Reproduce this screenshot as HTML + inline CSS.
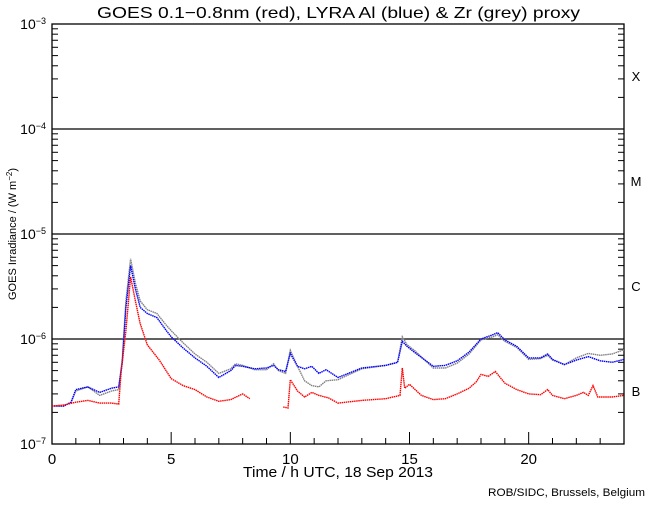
<!DOCTYPE html>
<html><head><meta charset="utf-8"><style>
body{margin:0;background:#fff}
svg text{font-family:"Liberation Sans",sans-serif;fill:#000}
</style></head><body>
<svg id="chart" width="650" height="500" viewBox="0 0 650 500" xmlns="http://www.w3.org/2000/svg">
<text x="97" y="18" font-size="16" textLength="483" lengthAdjust="spacingAndGlyphs">GOES 0.1−0.8nm (red), LYRA Al (blue) &amp; Zr (grey) proxy</text>
<text transform="translate(16,234) rotate(-90)" font-size="11" text-anchor="middle">GOES Irradiance / (W m<tspan baseline-shift="super" font-size="8">−2</tspan>)</text>
<text x="243" y="477" font-size="15" textLength="190" lengthAdjust="spacingAndGlyphs">Time / h UTC, 18 Sep 2013</text>
<text x="488" y="496" font-size="11" textLength="157" lengthAdjust="spacingAndGlyphs">ROB/SIDC, Brussels, Belgium</text>
<g id="axes"></g>
<g id="series"></g>
</svg>
<script>
const hours=[0,0.5,0.8,1,1.5,2,2.5,2.8,2.95,3.1,3.3,3.5,3.7,4,4.4,4.8,5,5.5,6,6.5,7,7.5,7.7,8,8.5,9,9.3,9.5,9.8,10,10.3,10.6,10.9,11.2,11.5,12,13,14,14.5,14.7,14.9,15.2,16,16.5,17,17.5,18,18.5,18.7,19,19.5,20,20.5,20.8,21,21.5,22,22.5,23,23.5,24];
const blueVals=[2.3e-7,2.3e-7,2.5e-7,3.3e-7,3.5e-7,3.1e-7,3.4e-7,3.5e-7,6e-7,2e-6,5.0e-6,3.0e-6,2.0e-6,1.75e-6,1.6e-6,1.2e-6,1.05e-6,8.2e-7,6.6e-7,5.5e-7,4.3e-7,5.0e-7,5.6e-7,5.5e-7,5.2e-7,5.3e-7,5.6e-7,5.1e-7,4.9e-7,7.3e-7,5.5e-7,5.2e-7,5.5e-7,4.7e-7,5.1e-7,4.3e-7,5.3e-7,5.6e-7,6e-7,9.5e-7,8.5e-7,7.5e-7,5.5e-7,5.6e-7,6.2e-7,7.5e-7,1.0e-6,1.1e-6,1.15e-6,9.8e-7,8.5e-7,6.6e-7,6.6e-7,7.2e-7,6.4e-7,5.7e-7,6.3e-7,6.8e-7,6.2e-7,6.0e-7,6.4e-7];
const greyVals=[2.3e-7,2.3e-7,2.5e-7,3.2e-7,3.5e-7,2.9e-7,3.2e-7,3.3e-7,6.5e-7,2.3e-6,5.8e-6,3.4e-6,2.3e-6,1.9e-6,1.75e-6,1.35e-6,1.2e-6,9.2e-7,7.2e-7,6.0e-7,4.7e-7,5.2e-7,5.8e-7,5.6e-7,5.1e-7,5.1e-7,5.8e-7,5.0e-7,4.7e-7,7.8e-7,5.5e-7,4.0e-7,3.6e-7,3.5e-7,4.0e-7,4.1e-7,5.2e-7,5.6e-7,6e-7,1.05e-6,8.8e-7,7.8e-7,5.3e-7,5.3e-7,5.9e-7,7.2e-7,9.8e-7,1.05e-6,1.1e-6,9.5e-7,8.3e-7,6.4e-7,6.5e-7,7.0e-7,6.3e-7,5.7e-7,6.6e-7,7.3e-7,7.0e-7,7.2e-7,7.9e-7];
const redHours=[0,0.5,1,1.5,2,2.5,2.8,2.9,3.1,3.3,3.5,3.7,4,4.5,5,5.5,6,6.5,7,7.5,8,8.3,8.31,9.7,9.9,10,10.3,10.6,10.9,11.2,11.6,12,13,14,14.6,14.7,14.8,15,15.5,16,16.5,17,17.5,17.8,18,18.3,18.6,19,19.5,20,20.5,20.8,21,21.5,22,22.3,22.5,22.7,22.9,23.5,24];
const redVals=[2.3e-7,2.35e-7,2.5e-7,2.6e-7,2.45e-7,2.45e-7,2.4e-7,4.8e-7,1.2e-6,3.9e-6,2.3e-6,1.4e-6,8.8e-7,6.3e-7,4.2e-7,3.6e-7,3.3e-7,2.8e-7,2.55e-7,2.65e-7,3.0e-7,2.7e-7,null,2.25e-7,2.2e-7,4.1e-7,3.2e-7,2.8e-7,3.1e-7,2.9e-7,2.75e-7,2.45e-7,2.6e-7,2.7e-7,2.9e-7,5.3e-7,3.4e-7,3.7e-7,2.9e-7,2.65e-7,2.7e-7,3.0e-7,3.4e-7,3.9e-7,4.6e-7,4.4e-7,4.9e-7,3.8e-7,3.3e-7,3.0e-7,2.95e-7,3.3e-7,2.9e-7,2.7e-7,2.9e-7,3.1e-7,2.9e-7,3.6e-7,2.8e-7,2.8e-7,2.9e-7];
const xTickLabels=["0","5","10","15","20"];
const yDecades=[-7,-6,-5,-4,-3];
const classLabels=["B","C","M","X"];

const X0=52,X1=624,Y0=444,DEC=105;
const xs=h=>X0+(X1-X0)*h/24;
const ys=v=>Y0-DEC*(Math.log10(v)+7);
const NS="http://www.w3.org/2000/svg";
function mk(tag,attrs,parent){const e=document.createElementNS(NS,tag);for(const k in attrs)e.setAttribute(k,attrs[k]);parent.appendChild(e);return e;}
const axes=document.getElementById('axes');
const frame=mk('rect',{x:X0,y:Y0-4*DEC,width:X1-X0,height:4*DEC,fill:'none',stroke:'#000','stroke-width':1.3},axes);


yDecades.forEach((d,i)=>{
  const y=ys(Math.pow(10,d));
  const t=mk('text',{x:X0-6,y:y+5,'font-size':14,'text-anchor':'end'},axes);
  
  
  t.textContent='10';
  const s=mk('tspan',{'baseline-shift':'super','font-size':9},t);s.textContent='−'+(-d);
  if(d>-7&&d<-3){const l=mk('line',{x1:X0,x2:X1,y1:y,y2:y,stroke:'#000','stroke-width':1.3},axes);
    
    }
  if(d<-3){for(let m=2;m<=9;m++){const yy=ys(m*Math.pow(10,d));
    mk('line',{x1:X0,x2:X0+6,y1:yy,y2:yy,stroke:'#000'},axes);
    mk('line',{x1:X1,x2:X1-6,y1:yy,y2:yy,stroke:'#000'},axes);}
    const c=mk('text',{x:636,y:ys(3.2*Math.pow(10,d))+5,'font-size':13,'text-anchor':'middle'},axes);
    
    
    c.textContent=classLabels[i];}
});
for(let h=1;h<24;h++){const x=xs(h);const len=h%5===0?12:6;
  mk('line',{x1:x,x2:x,y1:Y0,y2:Y0-len,stroke:'#000'},axes);}
xTickLabels.forEach(s=>{const t=mk('text',{x:xs(+s),y:Y0+20,'font-size':15,'text-anchor':'middle'},axes);
  
  
  t.textContent=s;});
const g=document.getElementById('series');
function line(hs,vs,color,name){let d='',pen=false;
  hs.forEach((h,i)=>{const v=vs[i];if(v==null){pen=false;return;}
    d+=(pen?'L':'M')+xs(h).toFixed(1)+','+ys(v).toFixed(1);pen=true;});
  const p=mk('path',{d:d,fill:'none',stroke:color,'stroke-width':1.4,'stroke-dasharray':'1.5 0.6'},g);
  
  }
line(hours,greyVals,'#808080','lyra-zr-series');
line(hours,blueVals,'#0000ff','lyra-al-series');
line(redHours,redVals,'#ff0000','goes-series');
</script>
</body></html>
